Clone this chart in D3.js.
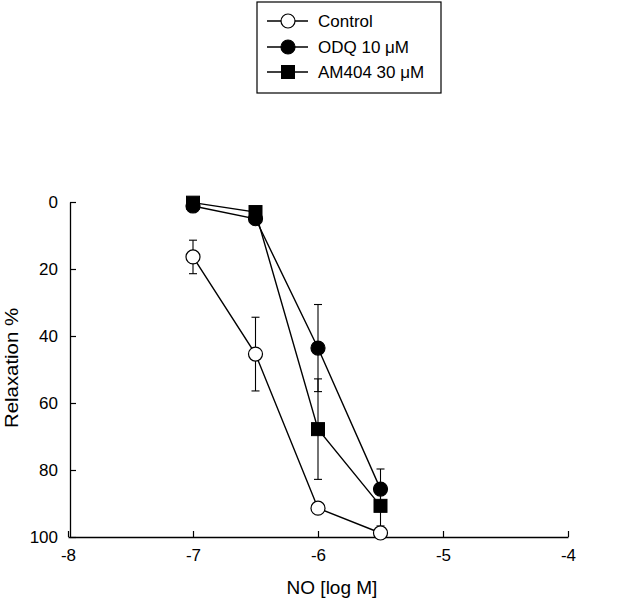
<!DOCTYPE html>
<html>
<head>
<meta charset="utf-8">
<script src="https://cdn.jsdelivr.net/npm/d3@7"></script>
<style>
  body { margin: 0; background: #fff; }
  svg { font-family: "Liberation Sans", Arial, sans-serif; }
</style>
</head>
<body>
<div id="chart"></div>
<script>
// dữ liệu
const logNO = [-7, -6.5, -6, -5.5];
const controlMean = [16.4, 45.4, 91.4, 98.8];
const controlErr = [5, 11, 0, 1];
const odqMean = [1.2, 5, 43.6, 85.7];
const odqErr = [0, 0, 13, 6];
const am404Mean = [0.2, 3, 67.8, 90.7];
const am404Err = [0, 0, 15, 6];
const xTicks = [-8, -7, -6, -5, -4];
const yTicks = [0, 20, 40, 60, 80, 100];

const series = [
  { name: "Control", mean: controlMean, err: controlErr, shape: "circle", fill: "#fff" },
  { name: "ODQ 10 \u03bcM", mean: odqMean, err: odqErr, shape: "circle", fill: "#000" },
  { name: "AM404 30 \u03bcM", mean: am404Mean, err: am404Err, shape: "square", fill: "#000" }
];

const width = 640, height = 601;
const svg = d3.select("#chart").append("svg")
  .attr("width", width).attr("height", height);

const x = d3.scaleLinear().domain([-8, -4]).range([68, 568]);
const y = d3.scaleLinear().domain([0, 100]).range([202, 537]);

// trục X
svg.append("g")
  .attr("transform", `translate(0,${y(100)})`)
  .call(d3.axisBottom(x).tickValues(xTicks).tickFormat(d => String(d))
    .tickSize(-6).tickSizeOuter(0).tickPadding(12))
  .call(g => g.select(".domain").attr("stroke", "#000").attr("stroke-width", 1.3))
  .call(g => g.selectAll(".tick line").attr("stroke-width", 1.2))
  .call(g => g.selectAll("text").style("font-size", "17px").attr("fill", "#000"));

// trục Y (hướng ngược)
svg.append("g")
  .attr("transform", `translate(${x(-8) + 2},0)`)
  .call(d3.axisLeft(y).tickValues(yTicks).tickFormat(d => String(d))
    .tickSize(-6).tickSizeOuter(0).tickPadding(12))
  .call(g => g.select(".domain").attr("stroke", "#000").attr("stroke-width", 1.3))
  .call(g => g.selectAll(".tick line").attr("stroke-width", 1.2))
  .call(g => g.selectAll("text").style("font-size", "17px").attr("fill", "#000"));

// nhãn trục
svg.append("text")
  .attr("x", 332).attr("y", 594)
  .attr("text-anchor", "middle")
  .style("font-size", "19px")
  .text("NO [log M]");

svg.append("text")
  .attr("transform", `translate(18,368) rotate(-90)`)
  .attr("text-anchor", "middle")
  .attr("textLength", 120)
  .attr("lengthAdjust", "spacingAndGlyphs")
  .style("font-size", "19px")
  .text("Relaxation %");

const line = d3.line()
  .x((d, i) => x(logNO[i]))
  .y(d => y(d));

function drawMarker(g, shape, fill, cx, cy) {
  if (shape === "circle") {
    g.append("circle")
      .attr("cx", cx).attr("cy", cy).attr("r", 7)
      .attr("fill", fill).attr("stroke", "#000").attr("stroke-width", 1.2);
  } else {
    g.append("rect")
      .attr("x", cx - 6.5).attr("y", cy - 6.5)
      .attr("width", 13).attr("height", 13)
      .attr("fill", fill).attr("stroke", "#000");
  }
}

// đường nối
series.forEach(s => {
  svg.append("path")
    .datum(s.mean)
    .attr("fill", "none")
    .attr("stroke", "#000")
    .attr("stroke-width", 1.4)
    .attr("d", line);
});

// thanh sai số
series.forEach(s => {
  s.mean.forEach((m, i) => {
    if (!s.err[i]) return;
    const cx = x(logNO[i]);
    const g = svg.append("g").attr("stroke", "#000").attr("stroke-width", 1.1);
    g.append("line").attr("x1", cx).attr("x2", cx)
      .attr("y1", y(m - s.err[i])).attr("y2", y(m + s.err[i]));
    [m - s.err[i], m + s.err[i]].forEach(v => {
      g.append("line").attr("x1", cx - 4).attr("x2", cx + 4)
        .attr("y1", y(v)).attr("y2", y(v));
    });
  });
});

// điểm
series.forEach(s => {
  const g = svg.append("g");
  s.mean.forEach((m, i) => drawMarker(g, s.shape, s.fill, x(logNO[i]), y(m)));
});

// chú thích
const legend = svg.append("g");
legend.append("rect")
  .attr("x", 257).attr("y", 2)
  .attr("width", 184).attr("height", 91)
  .attr("fill", "#fff").attr("stroke", "#000").attr("stroke-width", 1.2);

const rowY = [21, 47, 72];
series.forEach((s, i) => {
  const ly = rowY[i];
  legend.append("line")
    .attr("x1", 267).attr("x2", 308)
    .attr("y1", ly).attr("y2", ly)
    .attr("stroke", "#000").attr("stroke-width", 1.3);
  drawMarker(legend, s.shape, s.fill, 288, ly);
  legend.append("text")
    .attr("x", 318).attr("y", ly + 6)
    .style("font-size", "17px")
    .text(s.name);
});
</script>
</body>
</html>
